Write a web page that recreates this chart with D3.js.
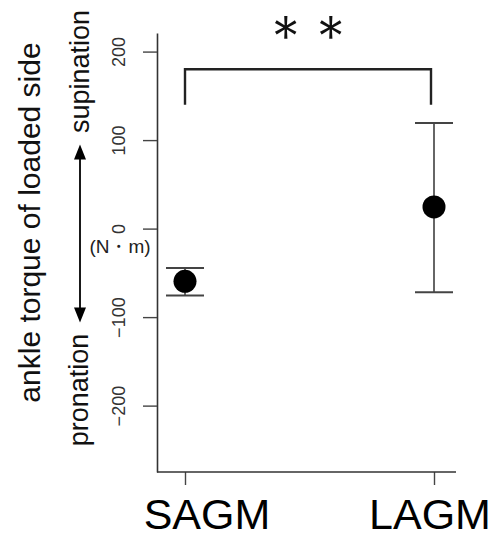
<!DOCTYPE html>
<html>
<head>
<meta charset="utf-8">
<script src="https://cdn.jsdelivr.net/npm/d3@7"></script>
<style>
  body { margin: 0; background: #fff; }
  text { font-family: "Liberation Sans", Arial, sans-serif; }
</style>
</head>
<body>
<script>
var groups = ["SAGM", "LAGM"];
var means = [-59.5, 24.5];
var upper = [-44.4, 119.4];
var lower = [-75.7, -72];
var yTicks = [-200, -100, 0, 100, 200];
var bracket = [140, 180];
var arrowEnds = [95, -106];
var stars = "＊＊";

var w = 494;
var h = 538;

var svg = d3.select("body")
            .append("svg")
            .attr("width", w)
            .attr("height", h);

// scales
var x = d3.scalePoint()
          .domain(groups)
          .range([185, 434]);

var y = d3.scaleLinear()
          .domain([-275, 221])
          .range([472, 33]);

var axisX = 157;

// y axis
var yAxis = svg.append("g")
               .attr("class", "y axis")
               .attr("transform", `translate(${axisX},0)`)
               .call(d3.axisLeft(y).tickValues(yTicks).tickSize(14).tickSizeOuter(0));

yAxis.select(".domain").attr("stroke", "#333").attr("stroke-width", 1.6);
yAxis.selectAll(".tick line").attr("stroke", "#444").attr("stroke-width", 1.4);
yAxis.selectAll(".tick text")
     .attr("x", 0)
     .attr("dy", 0)
     .attr("transform", "translate(-32,0) rotate(-90)")
     .attr("text-anchor", "middle")
     .attr("font-size", "18px")
     .attr("font-family", "Liberation Sans, Arial, sans-serif")
     .attr("fill", "#333");

// x axis
var xAxis = svg.append("g")
               .attr("class", "x axis")
               .attr("transform", `translate(0,${y.range()[0]})`)
               .call(d3.axisBottom(x).tickSize(13).tickSizeOuter(0));

xAxis.select(".domain").remove();
xAxis.append("line")
     .attr("x1", axisX)
     .attr("x2", x("LAGM") + 22)
     .attr("stroke", "#333")
     .attr("stroke-width", 1.6);
xAxis.selectAll(".tick line").attr("stroke", "#444").attr("stroke-width", 1.4);
xAxis.selectAll(".tick text").remove();

var labelShift = { SAGM: 22, LAGM: -4 };
svg.selectAll("group_labels")
   .data(groups)
   .enter()
   .append("text")
   .attr("x", d => x(d) + labelShift[d])
   .attr("y", 529)
   .attr("text-anchor", "middle")
   .attr("font-size", "43px")
   .attr("fill", "#000")
   .text(d => d);

// error bars
var bars = groups.map((g, i) => ({ group: g, mean: means[i], hi: upper[i], lo: lower[i] }));

svg.selectAll("err_lines")
   .data(bars)
   .enter()
   .append("line")
   .attr("x1", d => x(d.group))
   .attr("x2", d => x(d.group))
   .attr("y1", d => y(d.hi))
   .attr("y2", d => y(d.lo))
   .attr("stroke", "#666")
   .attr("stroke-width", 2);

["hi", "lo"].forEach(function (k) {
  svg.selectAll("caps_" + k)
     .data(bars)
     .enter()
     .append("line")
     .attr("x1", d => x(d.group) - 19)
     .attr("x2", d => x(d.group) + 19)
     .attr("y1", d => y(d[k]))
     .attr("y2", d => y(d[k]))
     .attr("stroke", "#444")
     .attr("stroke-width", 2);
});

svg.selectAll("points")
   .data(bars)
   .enter()
   .append("circle")
   .attr("cx", d => x(d.group))
   .attr("cy", d => y(d.mean))
   .attr("r", 11.5)
   .attr("fill", "#000");

// significance bracket
var bx1 = x("SAGM");
var bx2 = x("LAGM") - 3;
svg.append("path")
   .attr("d", `M${bx1},${y(bracket[0])}V${y(bracket[1])}H${bx2}V${y(bracket[0])}`)
   .attr("fill", "none")
   .attr("stroke", "#222")
   .attr("stroke-width", 2.4);

var mid = (bx1 + bx2) / 2;
svg.append("text")
   .attr("x", mid - 4)
   .attr("y", 34)
   .attr("dominant-baseline", "central")
   .attr("text-anchor", "middle")
   .attr("font-family", "Noto Sans CJK JP, sans-serif")
   .attr("font-size", "54px")
   .attr("letter-spacing", "-9px")
   .attr("fill", "#111")
   .text(stars);

// axis title and direction annotations
svg.append("text")
   .attr("transform", "translate(40,222.5) rotate(-90)")
   .attr("text-anchor", "middle")
   .attr("font-size", "30px")
   .attr("fill", "#111")
   .text("ankle torque of loaded side");

svg.append("text")
   .attr("transform", "translate(89,71.5) rotate(-90)")
   .attr("text-anchor", "middle")
   .attr("font-size", "27px")
   .attr("fill", "#111")
   .text("supination");

svg.append("text")
   .attr("transform", "translate(88,390) rotate(-90)")
   .attr("text-anchor", "middle")
   .attr("font-size", "27px")
   .attr("fill", "#111")
   .text("pronation");

svg.append("text")
   .attr("x", 120)
   .attr("y", 253)
   .attr("text-anchor", "middle")
   .attr("font-size", "19px")
   .attr("font-family", "Liberation Sans, Noto Sans CJK JP, sans-serif")
   .attr("fill", "#222")
   .text("(N・m)");

// double arrow
var ax = 80;
var arrTop = y(arrowEnds[0]);
var arrBot = y(arrowEnds[1]);
svg.append("line")
   .attr("x1", ax).attr("x2", ax)
   .attr("y1", arrTop + 12).attr("y2", arrBot - 12)
   .attr("stroke", "#000")
   .attr("stroke-width", 1.8);
svg.append("path")
   .attr("d", `M${ax},${arrTop}L${ax - 6},${arrTop + 15}L${ax + 6},${arrTop + 15}Z`)
   .attr("fill", "#000");
svg.append("path")
   .attr("d", `M${ax},${arrBot}L${ax - 6},${arrBot - 15}L${ax + 6},${arrBot - 15}Z`)
   .attr("fill", "#000");
</script>
</body>
</html>
